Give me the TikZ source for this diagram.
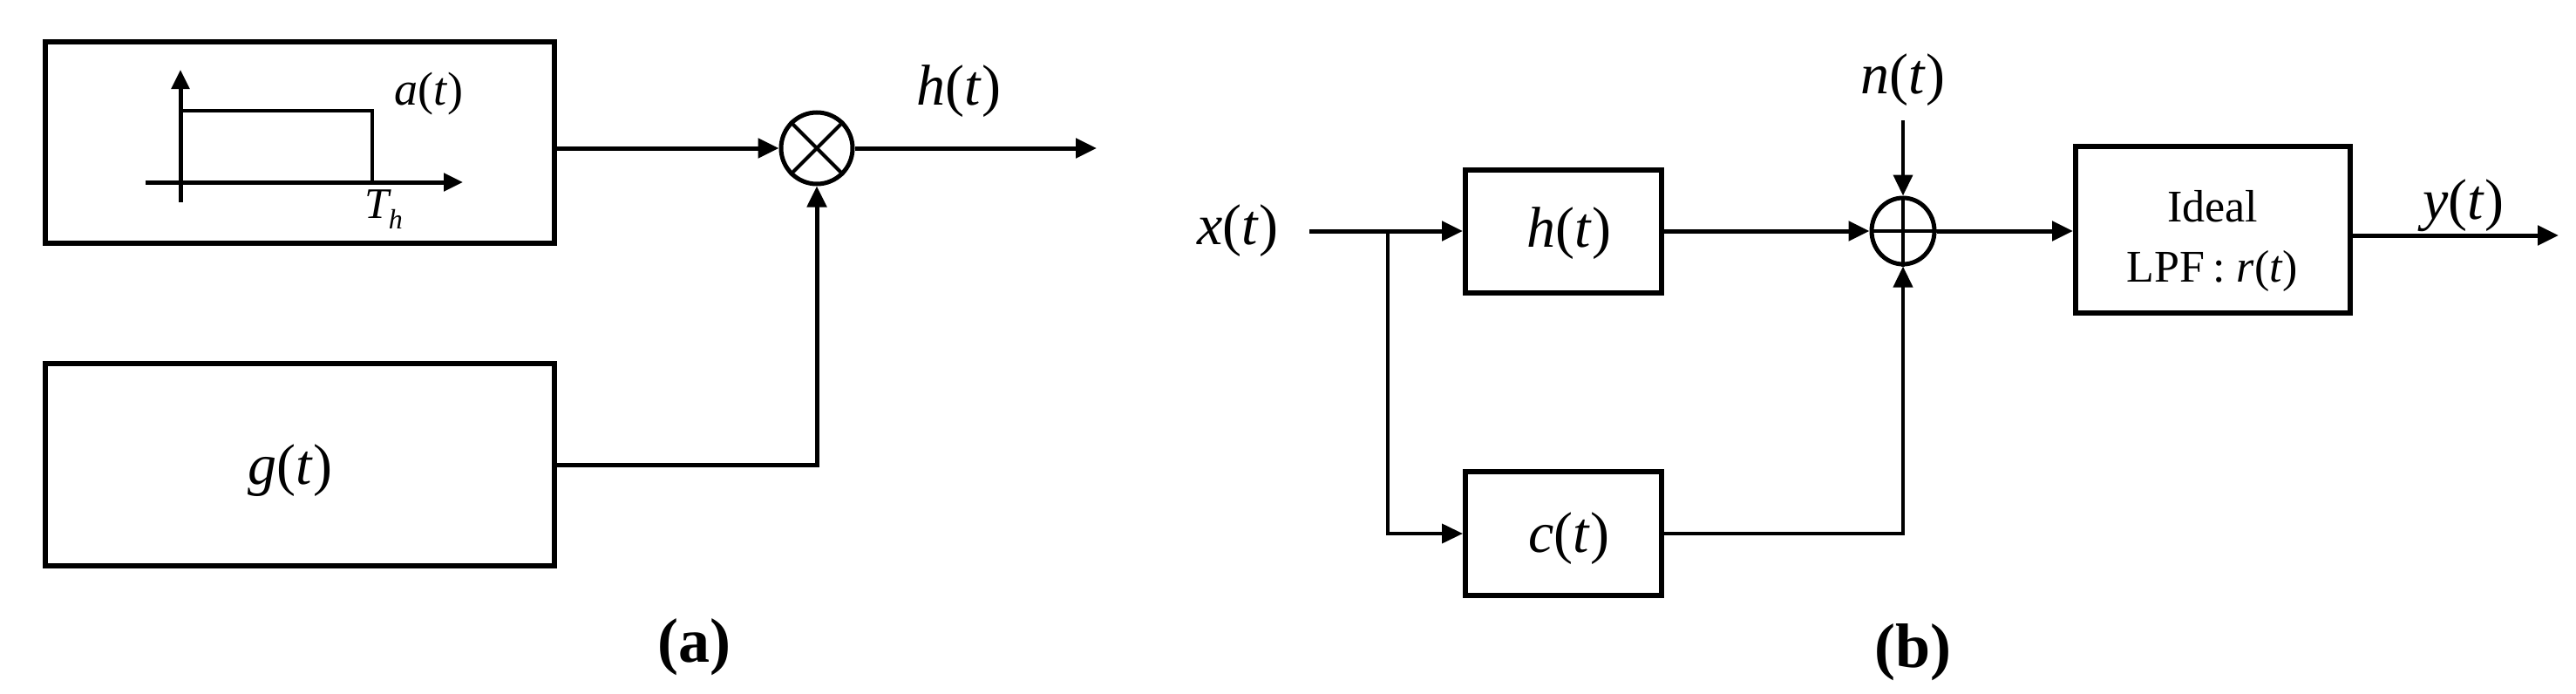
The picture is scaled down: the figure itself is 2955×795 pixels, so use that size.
\documentclass[tikz,border=0pt]{standalone}
\usepackage{fontspec}
\setmainfont{Liberation Serif}
\usetikzlibrary{arrows.meta,shapes.geometric}
\newcommand{\fn}[1]{\textit{#1}(\textit{t})}
\begin{document}
\begin{tikzpicture}[x=1pt,y=-1pt,
 box/.style={draw,line width=6pt,inner sep=0pt},
 ln/.style={line width=5pt},
 ar/.style={ln,-{Triangle[length=24pt,width=22pt]}},
 lab/.style={font=\fontsize{66}{70}\selectfont},
 txt/.style={font=\fontsize{52}{56}\selectfont,align=center}]
\useasboundingbox (0,0) rectangle (2955,795);
% panel a
\node[box,minimum width=584pt,minimum height=231pt] (A) at (344,163.5) {};
\node[box,minimum width=584pt,minimum height=232pt] (G) at (344,533) {};
\node[lab] at (333,540) {\fn{g}};
\draw[ln,-{Triangle[length=22pt,width=20pt]}] (207,232) -- (207,80);
\draw[ln,-{Triangle[length=22pt,width=20pt]}] (167,209) -- (531,209);
\draw[line width=4pt] (207,127) -- (427,127) -- (427,209);
\node[font=\fontsize{54}{58}\selectfont] at (492,108) {\fn{a}};
\node[font=\fontsize{50}{54}\selectfont\itshape] at (440,240) {T\raisebox{-12pt}{\fontsize{32}{34}\selectfont h}};
\node[draw,circle,line width=5pt,minimum size=82pt,inner sep=0pt] (M) at (937,170) {};
\draw[line width=4pt] (M.north west) -- (M.south east) (M.north east) -- (M.south west);
\draw[ar] (A.east|-M) -- (M.west);
\draw[ar] (G.east|-0,533) -| (M.south);
\coordinate (Mo) at (1258,170);
\draw[ar] (M.east) -- (Mo);
\node[lab] at (1100,105) {\fn{h}};
\node[font=\fontsize{72}{76}\selectfont\bfseries] at (796,742) {(a)};
% panel b
\node[lab] at (1420,265) {\fn{x}};
\coordinate (Xi) at (1502,265);
\coordinate (Br) at (1592,265);
\node[box,minimum width=225pt,minimum height=141pt] (H) at (1793.5,265) {};
\node[lab] at (1800,268) {\fn{h}};
\node[box,minimum width=225pt,minimum height=142pt] (C) at (1793.5,612) {};
\node[lab] at (1800,618) {\fn{c}};
\node[draw,ellipse,line width=5pt,minimum width=72pt,minimum height=76pt,inner sep=0pt] (S) at (2183,265) {};
\draw[line width=4pt] (S.north) -- (S.south) (S.west) -- (S.east);
\node[box,minimum width=315pt,minimum height=191pt] (L) at (2538.5,263.5) {};
\node[txt] at (2538,237) {Ideal};
\node[txt] at (2538,311) {LPF\,: \fn{r}};
\draw[ar] (Xi) -- (H.west);
\draw[line width=4pt,-{Triangle[length=24pt,width=22pt]}] (Br) |- (C.west);
\draw[ar] (H.east) -- (S.west);
\draw[line width=4pt,-{Triangle[length=24pt,width=22pt]}] (C.east) -| (S.south);
\coordinate (Ni) at (2183,138);
\draw[line width=4pt,-{Triangle[length=24pt,width=22pt]}] (Ni) -- (S.north);
\node[lab] at (2183,92) {\fn{n}};
\draw[ar] (S.east) -- (L.west|-S);
\coordinate (Yo) at (2935,270);
\draw[ar] (L.east|-Yo) -- (Yo);
\node[lab] at (2826,236) {\fn{y}};
\node[font=\fontsize{72}{76}\selectfont\bfseries] at (2194,748) {(b)};
\end{tikzpicture}
\end{document}
